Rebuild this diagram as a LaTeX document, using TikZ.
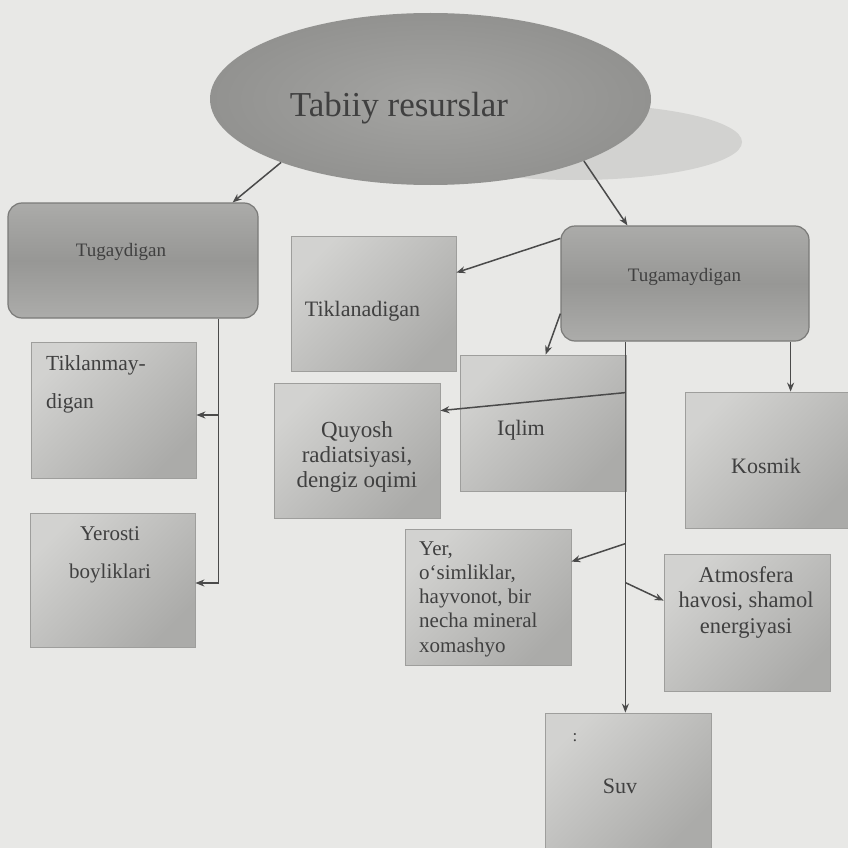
\documentclass[tikz,border=0pt]{standalone}
\usepackage{fontspec}
\setmainfont{Liberation Serif}
\usetikzlibrary{shapes.geometric,arrows.meta,calc}
\definecolor{bgc}{HTML}{E8E8E6}
\definecolor{txc}{HTML}{404040}
\definecolor{lnc}{HTML}{4A4A4A}
\definecolor{boxl}{HTML}{D2D2D0}
\definecolor{boxd}{HTML}{ABABA9}
\definecolor{boxe}{HTML}{9E9E9C}
\definecolor{rndt}{HTML}{ABABA9}
\definecolor{rndm}{HTML}{979795}
\definecolor{rndb}{HTML}{ACACAA}
\definecolor{rnde}{HTML}{7A7A78}
\definecolor{elli}{HTML}{A4A4A2}
\definecolor{ello}{HTML}{929290}
\definecolor{shad}{HTML}{D2D2D0}
\tikzset{
  rectbox/.style={rectangle, inner sep=0pt, minimum width=166pt, minimum height=136pt,
    top color=boxl, bottom color=boxd, shading angle=45, draw=boxe, line width=0.8pt},
  rndbox/.style={rectangle, rounded corners=14pt, inner sep=0pt,
    top color=rndt, bottom color=rndb, middle color=rndm, draw=rnde, line width=1.2pt},
  txt/.style={text=txc, inner sep=0pt, anchor=base},
  arr/.style={draw=lnc, line width=1.5pt, -{Stealth[length=9pt,width=7pt]}}
}
\begin{document}
\begin{tikzpicture}[x=1pt,y=-1pt]
\useasboundingbox (0,0) rectangle (848,848);
\fill[bgc] (0,0) rectangle (848,848);
\begin{scope}
\clip (0,0) rectangle (848,848);
% shadow ellipse and main ellipse
\node[ellipse, fill=shad, minimum width=334pt, minimum height=76pt, inner sep=0pt] (shd) at (575,142) {};
\node[ellipse, inner color=elli, outer color=ello, minimum width=441pt, minimum height=172pt, inner sep=0pt] (ell) at (430.5,99) {};
% rounded boxes
\node[rndbox, minimum width=250pt, minimum height=115pt] (tug) at (133,260.5) {};
\node[rndbox, minimum width=248pt, minimum height=115pt] (tgm) at (685,283.5) {};
% rectangular boxes
\node[rectbox, minimum width=165pt, minimum height=135pt] (tik) at (373.5,303.5) {};
\node[rectbox, minimum width=165pt] (tkm) at (113.5,410) {};
\node[rectbox, minimum width=165pt, minimum height=134pt] (yro) at (112.5,580) {};
\node[rectbox, minimum height=135pt] (quy) at (357,450.5) {};
\node[rectbox] (iql) at (543,423) {};
\node[rectbox] (kos) at (768,460) {};
\node[rectbox] (yer) at (488,597) {};
\node[rectbox, minimum height=137pt] (atm) at (747,622.5) {};
\node[rectbox] (suv) at (628,781) {};
% texts
\node[txt, font=\fontsize{35}{40}\selectfont] (t-tab) at (399,117) {Tabiiy resurslar};
\node[txt, font=\fontsize{19}{22}\selectfont] (t-tug) at (121,256) {Tugaydigan};
\node[txt, font=\fontsize{19}{22}\selectfont] (t-tgm) at (684.5,281) {Tugamaydigan};
\node[txt, font=\fontsize{22}{26}\selectfont] (t-tik) at (362.5,316) {Tiklanadigan};
\node[txt, anchor=base west, font=\fontsize{21.5}{38}\selectfont] (t-tkm) at (46,370)
  {\begin{tabular}[t]{@{}l@{}}Tiklanmay-\\digan\end{tabular}};
\node[txt, font=\fontsize{21}{38}\selectfont] (t-yro) at (110,540)
  {\begin{tabular}[t]{@{}c@{}}Yerosti\\boyliklari\end{tabular}};
\node[txt, font=\fontsize{23}{25}\selectfont] (t-quy) at (357,437)
  {\begin{tabular}[t]{@{}c@{}}Quyosh\\radiatsiyasi,\\dengiz oqimi\end{tabular}};
\node[txt, font=\fontsize{22}{26}\selectfont] (t-iql) at (521,435) {Iqlim};
\node[txt, font=\fontsize{22}{26}\selectfont] (t-kos) at (766,473) {Kosmik};
\node[txt, anchor=base west, font=\fontsize{21}{24.3}\selectfont] (t-yer) at (419,555)
  {\begin{tabular}[t]{@{}l@{}}Yer,\\o‘simliklar,\\hayvonot, bir\\necha mineral\\xomashyo\end{tabular}};
\node[txt, font=\fontsize{22.5}{25.5}\selectfont] (t-atm) at (746,582)
  {\begin{tabular}[t]{@{}c@{}}Atmosfera\\havosi, shamol\\energiyasi\end{tabular}};
\node[txt, font=\fontsize{17}{20}\selectfont] (t-dot) at (575,741) {:};
\node[txt, font=\fontsize{22}{26}\selectfont] (t-suv) at (620,793) {Suv};
% connectors from the ellipse
\draw[arr] (ell.203.2) -- ([xshift=-26pt]tug.north east);
\draw[arr] (ell.-22.4) -- ([xshift=67pt]tgm.north west);
\draw[arr] ([yshift=-13pt]tgm.north west) -- ([yshift=-37pt]tik.north east);
\draw[arr] ([yshift=28pt]tgm.south west) -- ([xshift=86pt]iql.north west);
% left trunk
\coordinate (tl) at ([xshift=-40pt]tug.south east);
\coordinate (tkmin) at ([yshift=-5pt]tkm.east);
\coordinate (yroin) at ([yshift=-3pt]yro.east);
\draw[arr] (tl) |- (yroin);
\draw[arr] (tl |- tkmin) -- (tkmin);
% right trunk
\coordinate (tr) at ([xshift=65pt]tgm.south west);
\draw[arr] (tr) -- (tr |- suv.north);
\draw[arr] ([yshift=-51pt]tr) -- ([yshift=-28pt]quy.north east);
\draw[arr] ([yshift=-202pt]tr) -- ([yshift=-33pt]yer.north east);
\draw[arr] ([yshift=-241pt]tr) -- ([yshift=-47pt]atm.north west);
\coordinate (kr) at ([xshift=-19pt]tgm.south east);
\draw[arr] (kr) -- (kr |- kos.north);
\end{scope}
\end{tikzpicture}
\end{document}
